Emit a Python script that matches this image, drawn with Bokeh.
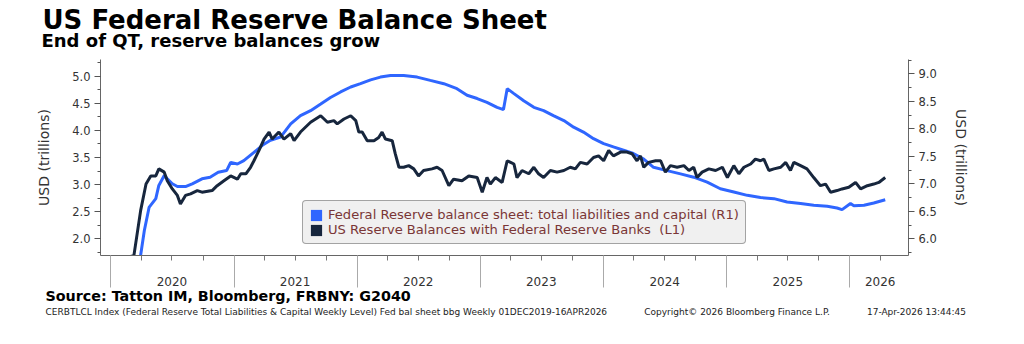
import pandas as pd
from bokeh.plotting import figure
from bokeh.models import (Range1d, LinearAxis, FixedTicker, SingleIntervalTicker,
                          PrintfTickFormatter, Title, Legend, LegendItem)
from bokeh.embed import file_html
from bokeh.resources import INLINE

# ---------------- data (trillions USD) ----------------
reserve_dates = [
    "2019-12-04", "2020-01-15", "2020-02-05", "2020-02-26", "2020-03-10", "2020-03-30",
    "2020-04-15", "2020-04-29", "2020-05-14", "2020-05-23", "2020-06-08", "2020-06-17",
    "2020-07-02", "2020-07-17", "2020-07-26", "2020-08-10", "2020-08-25", "2020-09-14",
    "2020-09-28", "2020-10-28", "2020-11-12", "2020-12-02", "2020-12-22", "2021-01-11",
    "2021-01-21", "2021-02-05", "2021-02-19", "2021-03-01", "2021-03-16", "2021-03-31",
    "2021-04-15", "2021-04-24", "2021-05-14", "2021-05-29", "2021-06-18", "2021-06-28",
    "2021-07-17", "2021-08-16", "2021-09-15", "2021-10-05", "2021-10-24", "2021-11-03",
    "2021-11-23", "2021-12-13", "2021-12-28", "2022-01-06", "2022-01-16", "2022-01-31",
    "2022-02-20", "2022-03-06", "2022-03-16", "2022-03-26", "2022-04-15", "2022-04-24",
    "2022-05-05", "2022-05-19", "2022-06-03", "2022-06-18", "2022-07-02", "2022-07-17",
    "2022-08-11", "2022-08-26", "2022-09-10", "2022-09-30", "2022-10-14", "2022-11-08",
    "2022-11-28", "2022-12-23", "2023-01-07", "2023-01-21", "2023-01-31", "2023-02-15",
    "2023-03-07", "2023-03-22", "2023-04-01", "2023-04-11", "2023-04-20", "2023-05-05",
    "2023-05-25", "2023-06-09", "2023-06-23", "2023-07-08", "2023-07-28", "2023-08-17",
    "2023-09-06", "2023-09-25", "2023-10-10", "2023-10-25", "2023-11-14", "2023-12-03",
    "2023-12-18", "2024-01-02", "2024-01-17", "2024-01-31", "2024-02-21", "2024-03-11",
    "2024-03-26", "2024-04-10", "2024-04-20", "2024-04-30", "2024-05-14", "2024-06-04",
    "2024-06-19", "2024-07-03", "2024-07-18", "2024-08-07", "2024-08-27", "2024-09-11",
    "2024-09-25", "2024-10-05", "2024-10-20", "2024-11-09", "2024-11-29", "2024-12-19",
    "2025-01-03", "2025-01-22", "2025-02-06", "2025-02-21", "2025-03-13", "2025-03-27",
    "2025-04-11", "2025-04-21", "2025-05-06", "2025-05-21", "2025-06-10", "2025-06-25",
    "2025-07-09", "2025-07-19", "2025-08-08", "2025-08-27", "2025-09-16", "2025-10-06",
    "2025-10-21", "2025-11-05", "2025-11-24", "2025-12-09", "2025-12-29", "2026-01-18",
    "2026-02-02", "2026-02-22", "2026-03-13", "2026-03-28", "2026-04-16",
]
reserve_values = [
    1.66, 1.66, 1.67, 1.67, 1.69, 2.52,
    3.01, 3.16, 3.16, 3.29, 3.23, 3.07,
    2.92, 2.80, 2.64, 2.80, 2.83, 2.89,
    2.86, 2.89, 2.98, 3.07, 3.16, 3.10,
    3.20, 3.20, 3.32, 3.44, 3.63, 3.84,
    3.97, 3.84, 3.97, 3.84, 3.94, 3.81,
    3.97, 4.15, 4.27, 4.15, 4.18, 4.12,
    4.21, 4.27, 4.18, 3.97, 3.97, 3.81,
    3.81, 3.87, 3.97, 3.84, 3.81, 3.57,
    3.32, 3.32, 3.35, 3.29, 3.16, 3.26,
    3.29, 3.32, 3.26, 2.98, 3.10, 3.07,
    3.16, 3.13, 2.86, 3.13, 3.01, 3.13,
    3.04, 3.44, 3.41, 3.38, 3.13, 3.26,
    3.20, 3.32, 3.20, 3.13, 3.26, 3.23,
    3.26, 3.32, 3.29, 3.41, 3.38, 3.50,
    3.53, 3.44, 3.63, 3.53, 3.60, 3.60,
    3.57, 3.44, 3.53, 3.32, 3.41, 3.44,
    3.44, 3.23, 3.35, 3.32, 3.35, 3.26,
    3.32, 3.13, 3.23, 3.29, 3.26, 3.32,
    3.13, 3.35, 3.20, 3.32, 3.38, 3.47,
    3.44, 3.47, 3.26, 3.29, 3.32, 3.41,
    3.26, 3.41, 3.35, 3.29, 3.13, 2.98,
    3.01, 2.86, 2.89, 2.92, 2.95, 3.04,
    2.92, 2.98, 3.01, 3.04, 3.13,
]

balance_dates = [
    "2019-12-04", "2020-01-15", "2020-02-26", "2020-03-11", "2020-03-25", "2020-03-30",
    "2020-04-10", "2020-04-24", "2020-05-14", "2020-05-23", "2020-06-08", "2020-06-17",
    "2020-07-02", "2020-07-17", "2020-08-10", "2020-08-30", "2020-09-28", "2020-10-22",
    "2020-11-15", "2020-12-10", "2020-12-22", "2021-01-11", "2021-01-30", "2021-03-01",
    "2021-03-26", "2021-04-19", "2021-05-19", "2021-06-18", "2021-07-17", "2021-08-16",
    "2021-09-15", "2021-10-14", "2021-11-13", "2021-12-13", "2022-01-11", "2022-02-10",
    "2022-03-11", "2022-04-10", "2022-05-19", "2022-06-28", "2022-08-06", "2022-09-15",
    "2022-10-24", "2022-11-23", "2022-12-23", "2023-01-21", "2023-02-20", "2023-03-11",
    "2023-03-22", "2023-04-11", "2023-05-10", "2023-06-09", "2023-07-08", "2023-08-06",
    "2023-09-06", "2023-10-05", "2023-11-03", "2023-12-03", "2024-01-02", "2024-01-31",
    "2024-03-01", "2024-03-30", "2024-04-30", "2024-05-29", "2024-07-08", "2024-08-17",
    "2024-09-25", "2024-11-04", "2024-12-13", "2025-01-22", "2025-03-03", "2025-04-11",
    "2025-05-21", "2025-06-29", "2025-08-08", "2025-09-16", "2025-10-26", "2025-11-24",
    "2025-12-09", "2026-01-03", "2026-01-13", "2026-02-12", "2026-03-13", "2026-04-16",
]
balance_values = [
    4.10, 4.15, 4.16, 4.31, 5.25, 5.70,
    6.15, 6.57, 6.73, 6.97, 7.15, 7.09,
    7.00, 6.95, 6.95, 7.00, 7.09, 7.12,
    7.21, 7.24, 7.39, 7.36, 7.42, 7.57,
    7.70, 7.79, 7.85, 8.09, 8.24, 8.33,
    8.45, 8.57, 8.67, 8.76, 8.82, 8.89,
    8.94, 8.97, 8.97, 8.94, 8.88, 8.82,
    8.73, 8.61, 8.55, 8.48, 8.39, 8.35,
    8.73, 8.64, 8.51, 8.39, 8.33, 8.24,
    8.15, 8.03, 7.94, 7.82, 7.73, 7.67,
    7.61, 7.55, 7.45, 7.30, 7.24, 7.18,
    7.12, 7.03, 6.91, 6.85, 6.79, 6.75,
    6.73, 6.67, 6.64, 6.61, 6.59, 6.56,
    6.53, 6.64, 6.60, 6.61, 6.65, 6.71,
]

year_labels = ["2020", "2021", "2022", "2023", "2024", "2025", "2026"]
year_label_dates = ["2020-07-01", "2021-07-01", "2022-07-01", "2023-07-01",
                    "2024-07-01", "2025-07-01", "2026-04-01"]
year_start_dates = ["2020-01-01", "2021-01-01", "2022-01-01", "2023-01-01",
                    "2024-01-01", "2025-01-01", "2026-01-01"]

series_names = ["Federal Reserve balance sheet: total liabilities and capital (R1)",
                "US Reserve Balances with Federal Reserve Banks  (L1)"]

title_text = "US Federal Reserve Balance Sheet"
subtitle_text = "End of QT, reserve balances grow"
source_text = "Source: Tatton IM, Bloomberg, FRBNY: G2040"
footer_parts = ["CERBTLCL Index (Federal Reserve Total Liabilities & Capital Weekly Level) "
                "Fed bal sheet bbg Weekly 01DEC2019-16APR2026",
                "Copyright\u00a9 2026 Bloomberg Finance L.P.",
                "17-Apr-2026 13:44:45"]


def to_ms(ds):
    idx = pd.to_datetime(pd.Series(ds))
    return ((idx - pd.Timestamp("1970-01-01")) // pd.Timedelta(milliseconds=1)).astype(float).tolist()


BLUE = "#2f66ff"
NAVY = "#17263d"
TXT = "#333333"
FONT = "DejaVu Sans"
NAN = float("nan")

res_x = to_ms(reserve_dates)
bal_x = to_ms(balance_dates)
x0, x1 = to_ms(["2019-12-02", "2026-06-24"])

p = figure(width=1024, height=344, output_backend="svg", toolbar_location=None,
           x_range=Range1d(x0, x1), y_range=Range1d(1.692, 5.308),
           min_border_left=100, min_border_right=116, min_border_top=0,
           min_border_bottom=89)
p.title_location = None
p.extra_y_ranges = {"right": Range1d(5.696, 9.26)}
p.grid.visible = False
p.outline_line_color = None
p.background_fill_color = "white"
p.border_fill_color = "white"

# lines
p.line(bal_x, balance_values, y_range_name="right", color=BLUE, line_width=3)
p.line(res_x, reserve_values, color=NAVY, line_width=3)

# x axis: quarter ticks, long separators at year starts, year labels mid-period
quarters = pd.date_range("2020-01-01", "2026-04-01", freq="QS")
quarter_ms = to_ms([d.strftime("%Y-%m-%d") for d in quarters])
year_ms = to_ms(year_start_dates)
label_ms = to_ms(year_label_dates)
overrides = {t: "" for t in quarter_ms}
for t, lab in zip(label_ms, year_labels):
    overrides[t] = lab

xa = p.xaxis[0]
xa.ticker = FixedTicker(ticks=quarter_ms, minor_ticks=year_ms)
xa.major_label_overrides = overrides
xa.major_tick_out = 5
xa.major_tick_in = 0
xa.minor_tick_out = 32
xa.minor_tick_in = 0
xa.major_tick_line_color = "#777777"
xa.minor_tick_line_color = "#aaaaaa"
xa.axis_line_color = "#666666"
xa.major_label_text_font = FONT
xa.major_label_text_font_size = "12px"
xa.major_label_text_color = TXT
xa.major_label_standoff = -11


def style_y(ax):
    ax.ticker = SingleIntervalTicker(interval=0.5, num_minor_ticks=2)
    ax.formatter = PrintfTickFormatter(format="%.1f")
    ax.major_tick_out = 6
    ax.major_tick_in = 0
    ax.minor_tick_out = 3
    ax.minor_tick_in = 0
    ax.major_tick_line_color = "#555555"
    ax.minor_tick_line_color = "#555555"
    ax.axis_line_color = "#666666"
    ax.major_label_text_font = FONT
    ax.major_label_text_font_size = "11.5px"
    ax.major_label_text_color = TXT
    ax.axis_label = "USD (trillions)"
    ax.axis_label_text_font = FONT
    ax.axis_label_text_font_style = "normal"
    ax.axis_label_text_font_size = "14px"
    ax.axis_label_text_color = TXT


ya = p.yaxis[0]
style_y(ya)
ya.major_label_standoff = 4
ya.axis_label_standoff = 17

yr = LinearAxis(y_range_name="right")
style_y(yr)
yr.major_label_standoff = 4
yr.axis_label_standoff = 13
p.add_layout(yr, "right")

# legend with square swatches
sq_bal = p.quad(left=[NAN], right=[NAN], top=[NAN], bottom=[NAN], fill_color=BLUE, line_color=None)
sq_res = p.quad(left=[NAN], right=[NAN], top=[NAN], bottom=[NAN], fill_color=NAVY, line_color=None)
legend = Legend(items=[LegendItem(label=series_names[0], renderers=[sq_bal]),
                       LegendItem(label=series_names[1], renderers=[sq_res])],
                location=(202, 11), margin=0, padding=6, spacing=0,
                glyph_width=14, glyph_height=14, label_height=12, label_standoff=5,
                label_text_font=FONT, label_text_font_size="13.1px",
                label_text_color="#7a3636",
                background_fill_color="#f0f0f0", background_fill_alpha=1.0,
                border_line_color="#555555", border_line_width=1.5)
if hasattr(legend, "border_radius"):
    legend.border_radius = 4
p.add_layout(legend, "center")

# titles above (first added sits next to the frame)
p.add_layout(Title(text=" ", text_font_size="8px", standoff=2.2), "above")
p.add_layout(Title(text=subtitle_text, text_font=FONT, text_font_size="18px",
                   text_font_style="bold", text_color="black", align="left",
                   vertical_align="top", offset=-59, standoff=-13.4), "above")
p.add_layout(Title(text=title_text, text_font=FONT, text_font_size="26px",
                   text_font_style="bold", text_color="black", align="left",
                   vertical_align="bottom", offset=-58, standoff=3.8), "above")

# source and footer below the axis
p.add_layout(Title(text=source_text, text_font=FONT, text_font_size="14.3px",
                   text_font_style="bold", text_color="black", align="left",
                   vertical_align="bottom", offset=-55, standoff=-5.5), "below")
gap = "\u00a0" * 13
p.add_layout(Title(text=gap.join(footer_parts), text_font=FONT, text_font_size="9px",
                   text_font_style="normal", text_color="#222222", align="left",
                   vertical_align="bottom", offset=-55, standoff=7), "below")

open("out.html", "w").write(file_html(p, INLINE))
